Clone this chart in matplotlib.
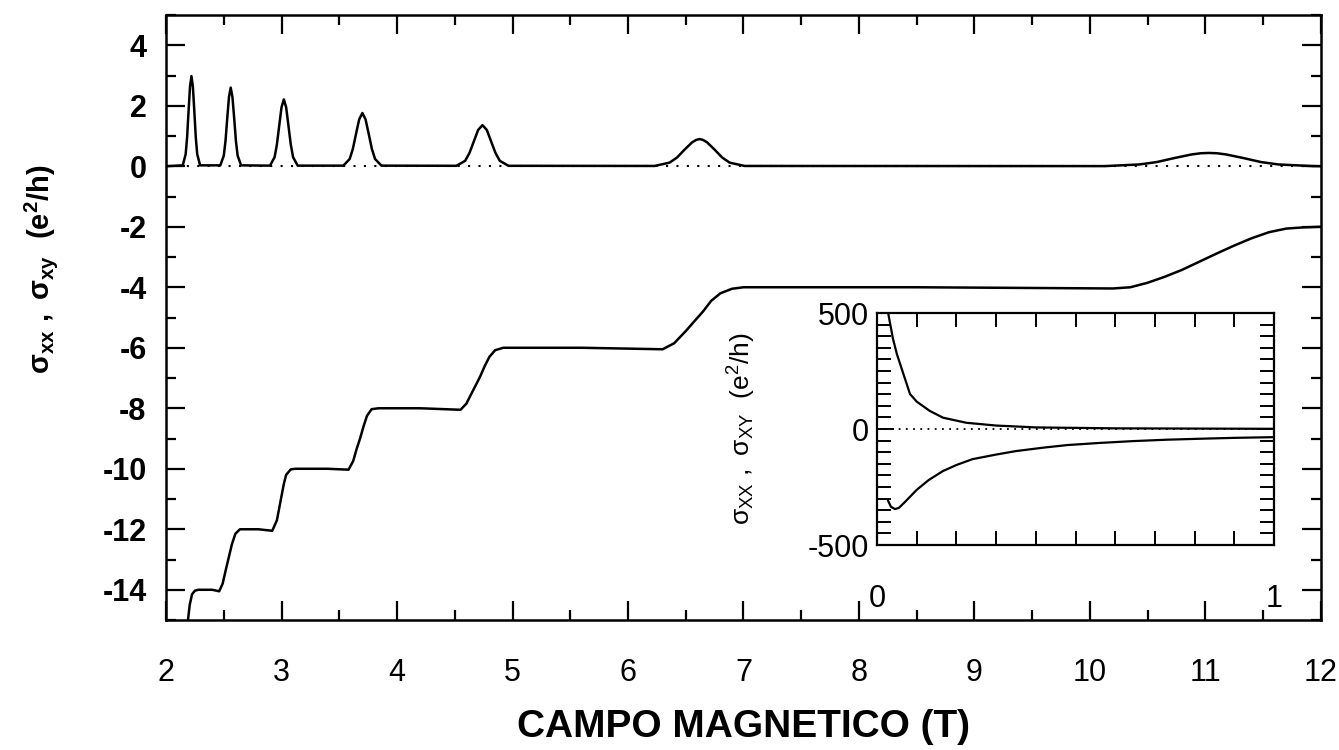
import matplotlib
matplotlib.use("Agg")
import matplotlib.pyplot as plt
from matplotlib.ticker import MultipleLocator, FixedLocator

plt.rcParams['font.family'] = ['Liberation Sans', 'DejaVu Sans']
plt.rcParams['axes.unicode_minus'] = False
plt.rcParams['mathtext.fontset'] = 'custom'
plt.rcParams['mathtext.rm'] = 'Liberation Sans:bold'
plt.rcParams['mathtext.it'] = 'Liberation Sans:bold'
plt.rcParams['mathtext.bf'] = 'Liberation Sans:bold'
plt.rcParams['mathtext.sf'] = 'Liberation Sans'

# sigma_xx (main panel)
b_xx = [2.00, 2.145, 2.17, 2.1825, 2.195, 2.2075, 2.22, 2.2325, 2.245, 2.2575, 2.27, 2.295,
        2.47, 2.50, 2.515, 2.53, 2.545, 2.56, 2.575, 2.59, 2.605, 2.62, 2.65,
        2.90, 2.94, 2.96, 2.98, 3.00, 3.02, 3.04, 3.06, 3.08, 3.10, 3.14,
        3.535, 3.59, 3.6175, 3.645, 3.6725, 3.70, 3.7275, 3.755, 3.7825, 3.81, 3.865,
        4.515, 4.59, 4.6275, 4.665, 4.7025, 4.74, 4.7775, 4.815, 4.8525, 4.89, 4.965,
        6.23, 6.36, 6.425, 6.49, 6.555, 6.59, 6.62, 6.65, 6.685, 6.75, 6.815, 6.88, 7.01,
        10.13, 10.43, 10.58, 10.73, 10.88, 10.96, 11.03, 11.10, 11.18, 11.33, 11.48, 11.63,
        11.93, 12.0]
sxx = [0.0, 0.03, 0.40, 0.96, 1.82, 2.63, 2.98, 2.63, 1.82, 0.96, 0.40, 0.03,
       0.03, 0.35, 0.84, 1.59, 2.29, 2.60, 2.29, 1.59, 0.84, 0.35, 0.03,
       0.02, 0.30, 0.72, 1.34, 1.95, 2.21, 1.95, 1.34, 0.72, 0.30, 0.02,
       0.02, 0.24, 0.57, 1.07, 1.55, 1.76, 1.55, 1.07, 0.57, 0.24, 0.02,
       0.015, 0.18, 0.44, 0.82, 1.20, 1.36, 1.20, 0.82, 0.44, 0.18, 0.015,
       0.01, 0.12, 0.29, 0.55, 0.79, 0.87, 0.90, 0.87, 0.79, 0.55, 0.29, 0.12, 0.01,
       0.005, 0.06, 0.14, 0.27, 0.39, 0.43, 0.44, 0.43, 0.39, 0.27, 0.14, 0.06,
       0.005, 0.0]

# sigma_xy (main panel)
b_xy = [2.17, 2.19, 2.205, 2.225, 2.25, 2.28, 2.40, 2.46,
        2.49, 2.52, 2.545, 2.57, 2.60, 2.64, 2.80, 2.92,
        2.96, 2.98, 3.00, 3.02, 3.04, 3.08, 3.12, 3.40, 3.58,
        3.62, 3.65, 3.68, 3.71, 3.74, 3.78, 3.84, 4.20, 4.55,
        4.60, 4.64, 4.68, 4.72, 4.76, 4.80, 4.85, 4.92, 5.60, 6.30,
        6.40, 6.50, 6.58, 6.65, 6.72, 6.80, 6.90, 7.00, 8.50, 10.20,
        10.35, 10.50, 10.65, 10.80, 10.95, 11.10, 11.25, 11.40, 11.55, 11.70, 11.85, 12.0]
sxy = [-15.8, -15.0, -14.5, -14.15, -14.03, -14.0, -14.0, -14.05,
       -13.8, -13.3, -12.9, -12.5, -12.15, -12.0, -12.0, -12.05,
       -11.7, -11.3, -10.9, -10.5, -10.2, -10.02, -10.0, -10.0, -10.03,
       -9.75, -9.35, -9.0, -8.6, -8.25, -8.03, -8.0, -8.0, -8.05,
       -7.85, -7.55, -7.25, -6.95, -6.6, -6.3, -6.08, -6.0, -6.0, -6.05,
       -5.85, -5.45, -5.1, -4.8, -4.45, -4.2, -4.05, -4.0, -4.0, -4.04,
       -4.0, -3.85, -3.65, -3.42, -3.15, -2.88, -2.62, -2.38, -2.18, -2.06, -2.02, -2.0]

# inset, low field
b_in_xx = [0.020, 0.028, 0.04, 0.05, 0.064, 0.083, 0.10, 0.133, 0.166, 0.225, 0.30, 0.40, 0.60, 1.0]
in_xx = [600, 500, 390, 323, 250, 151, 118, 78, 49, 27, 15, 7, 3, 1]
b_in_xy = [0.028, 0.035, 0.045, 0.055, 0.07, 0.10, 0.13, 0.166, 0.20, 0.24, 0.30, 0.35,
           0.42, 0.48, 0.56, 0.645, 0.73, 0.81, 0.90, 1.0]
in_xy = [-310, -335, -345, -340, -315, -262, -220, -181, -155, -130, -110, -95,
         -80, -69, -60, -52, -46, -42, -38, -35]

fig = plt.figure(figsize=(13.39, 7.5), dpi=100)
ax = fig.add_axes([0.124, 0.1733, 0.8625, 0.8067])

ax.plot([2, 12], [0, 0], color='black', lw=1.5, ls=(0, (1, 4)))
ax.plot(b_xx, sxx, color='black', lw=1.8)
ax.plot(b_xy, sxy, color='black', lw=1.8)

ax.set_xlim(2, 12)
ax.set_ylim(-15, 5)
ax.xaxis.set_major_locator(MultipleLocator(1))
ax.xaxis.set_minor_locator(MultipleLocator(0.5))
ax.yaxis.set_major_locator(MultipleLocator(2))
ax.yaxis.set_minor_locator(MultipleLocator(1))
ax.set_yticks(range(-14, 5, 2))
ax.tick_params(which='both', direction='in', top=True, right=True, width=1.6)
ax.tick_params(which='major', length=14)
ax.tick_params(which='minor', length=7)
ax.tick_params(axis='x', pad=27)
ax.tick_params(axis='y', pad=14)
for t in ax.get_xticklabels():
    t.set_fontsize(22)
for t in ax.get_yticklabels():
    t.set_fontsize(22)
    t.set_fontweight('bold')
for s in ax.spines.values():
    s.set_linewidth(1.8)

ax.set_xlabel('CAMPO MAGNETICO (T)', fontsize=28, fontweight='bold')
ax.xaxis.set_label_coords(0.5, -0.147)
ax.set_ylabel(r'$\mathrm{σ_{xx}\ ,\ σ_{xy}\ \ (e^2/h)}$', fontsize=21)
ax.yaxis.set_label_coords(-0.092, 0.58)

# inset
ins = fig.add_axes([0.655, 0.2733, 0.2965, 0.3093])
ins.plot([0, 1], [0, 0], color='black', lw=1.3, ls=(0, (1, 3)))
ins.plot(b_in_xx, in_xx, color='black', lw=1.6)
ins.plot(b_in_xy, in_xy, color='black', lw=1.6)
ins.set_xlim(0, 1)
ins.set_ylim(-500, 500)
ins.xaxis.set_major_locator(FixedLocator([0, 1]))
ins.xaxis.set_minor_locator(MultipleLocator(0.1))
ins.yaxis.set_major_locator(FixedLocator([-500, 0, 500]))
ins.yaxis.set_minor_locator(MultipleLocator(50))
ins.tick_params(which='both', direction='in', top=True, right=True, width=1.4)
ins.tick_params(which='major', length=12)
ins.tick_params(which='minor', length=10)
ins.tick_params(axis='x', pad=28)
ins.tick_params(axis='y', pad=6)
for t in ins.get_xticklabels():
    t.set_fontsize(22)
for t in ins.get_yticklabels():
    t.set_fontsize(22)
for s in ins.spines.values():
    s.set_linewidth(1.6)
ins.set_ylabel(r'$\mathsf{σ_{XX}\ ,\ σ_{XY}\ \ (e^2/h)}$', fontsize=19)
ins.yaxis.set_label_coords(-0.30, 0.5)

fig.savefig('out.png', dpi=100)
